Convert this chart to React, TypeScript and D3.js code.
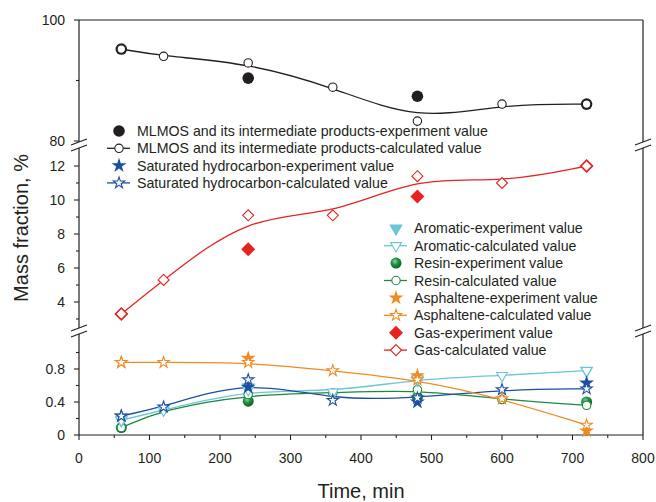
import React from 'react';
import * as d3 from 'd3';

// sampling times (min)
const times = [60, 120, 240, 360, 480, 600, 720];
const expTimes = [60, 240, 480, 720];

const mlmosCalc = [95.2, 94.0, 92.9, 88.9, 83.3, 86.1, 86.1];
const mlmosExp = [95.2, 90.4, 87.4, 86.1];
const gasCalc = [3.3, 5.3, 9.1, 9.1, 11.4, 11.0, 12.0];
const gasExp = [3.3, 7.1, 10.2, 12.0];
const satCalc = [0.23, 0.34, 0.67, 0.42, 0.45, 0.55, 0.56];
const satExp = [0.23, 0.58, 0.40, 0.63];
const aroCalc = [0.18, 0.30, 0.55, 0.52, 0.68, 0.72, 0.78];
const aroExp = [0.18, 0.58, 0.67, 0.78];
const resinCalc = [0.09, 0.31, 0.49, 0.51, 0.55, 0.43, 0.36];
const resinExp = [0.09, 0.41, 0.46, 0.40];
const asphCalc = [0.88, 0.88, 0.88, 0.78, 0.67, 0.44, 0.12];
const asphExp = [0.88, 0.93, 0.72, 0.05];

const xTicks = [0, 100, 200, 300, 400, 500, 600, 700, 800];
const xMinor = [50, 150, 250, 350, 450, 550, 650, 750];
const topTicks = [80, 100];
const topMinor = [90];
const midTicks = [4, 6, 8, 10, 12];
const midMinor = [3, 5, 7, 9, 11];
const botTicks = [0, 0.4, 0.8];
const botMinor = [0.2, 0.6, 1.0];

const legendTop = [
  'MLMOS and its intermediate products-experiment value',
  'MLMOS and its intermediate products-calculated value',
  'Saturated hydrocarbon-experiment value',
  'Saturated hydrocarbon-calculated value',
];
const legendRight = [
  'Aromatic-experiment value',
  'Aromatic-calculated value',
  'Resin-experiment value',
  'Resin-calculated value',
  'Asphaltene-experiment value',
  'Asphaltene-calculated value',
  'Gas-experiment value',
  'Gas-calculated value',
];

const INK = '#231f20';
const C = {
  mlmos: '#231f20',
  sat: '#1c4fa3',
  aro: '#6cc6d6',
  resin: '#1b8a3e',
  asph: '#f28a22',
  gas: '#e8221f',
};
const FONT = "'Liberation Sans', Arial, sans-serif";

type Kind = 'circle' | 'star' | 'tri' | 'diamond' | 'ball';

const starBig = d3.symbol(d3.symbolStar, 70)()!;
const starSmall = d3.symbol(d3.symbolStar, 40)()!;
const triBig = d3.symbol(d3.symbolTriangle, 80)()!;
const triSmall = d3.symbol(d3.symbolTriangle, 50)()!;

function Marker({ kind, exp, color, cx, cy }: { kind: Kind; exp: boolean; color: string; cx: number; cy: number }) {
  const fill = exp ? color : '#fff';
  const sw = exp ? 0 : 1.1;
  const t = `translate(${cx},${cy})`;
  if (kind === 'circle' || kind === 'ball') {
    if (exp && kind === 'ball') {
      return <circle cx={cx} cy={cy} r={5.5} fill="url(#ballGrad)" />;
    }
    return <circle cx={cx} cy={cy} r={exp ? 5.8 : 4.2} fill={fill} stroke={color} strokeWidth={sw} />;
  }
  if (kind === 'star') {
    return <path d={exp ? starBig : starSmall} transform={t} fill={fill} stroke={color} strokeWidth={sw} />;
  }
  if (kind === 'tri') {
    return <path d={exp ? triBig : triSmall} transform={`${t} rotate(180)`} fill={fill} stroke={color} strokeWidth={sw} />;
  }
  const h = exp ? 7 : 5.5;
  return (
    <path
      d={`M0,${-h}L${h},0L0,${h}L${-h},0Z`}
      transform={t}
      fill={fill}
      stroke={color}
      strokeWidth={sw}
    />
  );
}

export default function App() {
  const x = d3.scaleLinear().domain([0, 800]).range([79, 643]);
  const yTop = d3.scaleLinear().domain([80, 100]).range([141, 20]);
  const yMid = d3.scaleLinear().domain([4, 12]).range([302, 166]);
  const yBot = d3.scaleLinear().domain([0, 0.8]).range([435, 369]);

  const x0 = x(0);
  const x1 = x(800);
  const segs: [number, number][] = [[20, 142], [148, 328], [334, 435]];
  const breaks = [145, 331];

  const series = [
    { calc: mlmosCalc, exp: mlmosExp, y: yTop, color: C.mlmos, kind: 'circle' as Kind },
    { calc: gasCalc, exp: gasExp, y: yMid, color: C.gas, kind: 'diamond' as Kind },
    { calc: resinCalc, exp: resinExp, y: yBot, color: C.resin, kind: 'ball' as Kind },
    { calc: aroCalc, exp: aroExp, y: yBot, color: C.aro, kind: 'tri' as Kind },
    { calc: satCalc, exp: satExp, y: yBot, color: C.sat, kind: 'star' as Kind },
    { calc: asphCalc, exp: asphExp, y: yBot, color: C.asph, kind: 'star' as Kind },
  ];

  const legTopItems = [
    { color: C.mlmos, kind: 'circle' as Kind },
    { color: C.sat, kind: 'star' as Kind },
  ];
  const legRightItems = [
    { color: C.aro, kind: 'tri' as Kind },
    { color: C.resin, kind: 'ball' as Kind },
    { color: C.asph, kind: 'star' as Kind },
    { color: C.gas, kind: 'diamond' as Kind },
  ];

  const yTicksAll = [
    ...topTicks.map((v) => ({ y: yTop(v), label: String(v) })),
    ...midTicks.map((v) => ({ y: yMid(v), label: String(v) })),
    ...botTicks.map((v) => ({ y: yBot(v), label: String(v) })),
  ];
  const yMinorAll = [...topMinor.map((v) => yTop(v)), ...midMinor.map((v) => yMid(v)), ...botMinor.map((v) => yBot(v))];

  return (
    <svg width={656} height={502} style={{ position: 'absolute', left: 0, top: 0, background: '#fff' }} fontFamily={FONT}>
      <defs>
        <radialGradient id="ballGrad" cx="0.4" cy="0.35" r="0.65">
          <stop offset="0%" stopColor="#8fd6a0" />
          <stop offset="45%" stopColor="#1f9444" />
          <stop offset="100%" stopColor="#0b5e25" />
        </radialGradient>
      </defs>

      {/* frame */}
      <line x1={x0} x2={x1} y1={20} y2={20} stroke={INK} strokeWidth={1.2} />
      <line x1={x0} x2={x1} y1={435} y2={435} stroke={INK} strokeWidth={1.2} />
      {segs.map(([a, b], i) => (
        <g key={i}>
          <line x1={x0} x2={x0} y1={a} y2={b} stroke={INK} strokeWidth={1.2} />
          <line x1={x1} x2={x1} y1={a} y2={b} stroke={INK} strokeWidth={1.2} />
        </g>
      ))}
      {breaks.map((b, i) => (
        <g key={i} stroke={INK} strokeWidth={1.1}>
          {[x0, x1].map((xx) => (
            <g key={xx}>
              <line x1={xx - 8} y1={b} x2={xx + 8} y2={b - 6} />
              <line x1={xx - 8} y1={b + 6} x2={xx + 8} y2={b} />
            </g>
          ))}
        </g>
      ))}

      {/* y ticks */}
      {yTicksAll.map((t, i) => (
        <g key={i}>
          <line x1={x0 - 5} x2={x0} y1={t.y} y2={t.y} stroke={INK} strokeWidth={1.1} />
          <text x={x0 - 14} y={t.y + 5} textAnchor="end" fontSize={14} fill={INK}>
            {t.label}
          </text>
        </g>
      ))}
      {yMinorAll.map((yy, i) => (
        <line key={i} x1={x0 - 3} x2={x0} y1={yy} y2={yy} stroke={INK} strokeWidth={1.1} />
      ))}

      {/* x ticks */}
      {xTicks.map((v) => (
        <g key={v}>
          <line x1={x(v)} x2={x(v)} y1={435} y2={440} stroke={INK} strokeWidth={1.1} />
          <text x={x(v)} y={462.5} textAnchor="middle" fontSize={14} fill={INK}>
            {v}
          </text>
        </g>
      ))}
      {xMinor.map((v) => (
        <line key={v} x1={x(v)} x2={x(v)} y1={435} y2={438} stroke={INK} strokeWidth={1.1} />
      ))}

      {/* axis titles */}
      <text x={361} y={498} textAnchor="middle" fontSize={20} fill={INK}>
        Time, min
      </text>
      <text transform="translate(28,228) rotate(-90)" textAnchor="middle" fontSize={20} fill={INK}>
        Mass fraction, %
      </text>

      {/* curves */}
      {series.map((s, i) => {
        const line = d3
          .line<number>()
          .x((_, j) => x(times[j]))
          .y((d) => s.y(d))
          .curve(d3.curveBasis);
        return <path key={i} d={line(s.calc)!} fill="none" stroke={s.color} strokeWidth={1.3} />;
      })}

      {/* markers */}
      {series.map((s, i) => (
        <g key={i}>
          {s.exp.map((v, j) => (
            <Marker key={'e' + j} kind={s.kind} exp color={s.color} cx={x(expTimes[j])} cy={s.y(v)} />
          ))}
          {s.calc.map((v, j) => (
            <Marker key={'c' + j} kind={s.kind} exp={false} color={s.color} cx={x(times[j])} cy={s.y(v)} />
          ))}
        </g>
      ))}

      {/* legend, upper left */}
      {legendTop.map((label, i) => {
        const it = legTopItems[Math.floor(i / 2)];
        const cy = 131 + i * 17.3;
        const exp = i % 2 === 0;
        return (
          <g key={label}>
            {!exp && <line x1={107} x2={130} y1={cy} y2={cy} stroke={it.color} strokeWidth={1.3} />}
            <Marker kind={it.kind} exp={exp} color={it.color} cx={119} cy={cy} />
            <text x={137} y={cy + 5} fontSize={14.2} fill={INK}>
              {label}
            </text>
          </g>
        );
      })}

      {/* legend, right */}
      {legendRight.map((label, i) => {
        const it = legRightItems[Math.floor(i / 2)];
        const cy = 228.3 + i * 17.4;
        const exp = i % 2 === 0;
        return (
          <g key={label}>
            {!exp && <line x1={384} x2={407} y1={cy} y2={cy} stroke={it.color} strokeWidth={1.3} />}
            <Marker kind={it.kind} exp={exp} color={it.color} cx={396} cy={cy} />
            <text x={414} y={cy + 5} fontSize={14.2} fill={INK}>
              {label}
            </text>
          </g>
        );
      })}
    </svg>
  );
}
